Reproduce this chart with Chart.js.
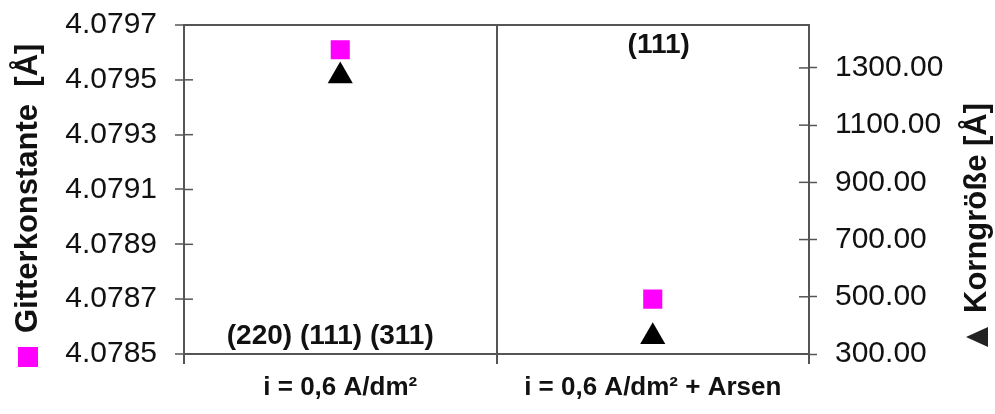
<!DOCTYPE html>
<html><head><meta charset="utf-8">
<script src="https://cdn.jsdelivr.net/npm/chart.js@4.4.0/dist/chart.umd.min.js"></script>
<style>html,body{margin:0;padding:0;background:#fff;overflow:hidden}</style>
</head><body>
<canvas id="c" width="995" height="414" style="width:995px;height:414px;display:block"></canvas>
<script>
const categories = ['i = 0,6 A/dm²', 'i = 0,6 A/dm² + Arsen'];
const gitterkonstante = [4.07961, 4.07870];
const korngroesse = [1272, 360];
const leftTicks = [4.0785, 4.0787, 4.0789, 4.0791, 4.0793, 4.0795, 4.0797];
const rightTicks = [300, 500, 700, 900, 1100, 1300];
const orientationLabels = ['(220) (111) (311)', '(111)'];
const leftTitle = 'Gitterkonstante  [Å]';
const rightTitle = 'Korngröße [Å]';

const FONT = "'Liberation Sans', Arial, sans-serif";
const AXIS = '#555';
const MAGENTA = '#FF00FF';

const noPad = s => { s.paddingTop = 0; s.paddingBottom = 0; };

const decor = {
  id: 'decor',
  afterDraw(chart) {
    const ctx = chart.ctx;
    const ca = chart.chartArea;
    const x = chart.scales.x, y = chart.scales.y, y1 = chart.scales.y1;
    ctx.save();
    // inner tick marks (cross ticks)
    ctx.strokeStyle = AXIS; ctx.lineWidth = 1.5;
    y.ticks.forEach(t => { const py = y.getPixelForValue(t.value); ctx.beginPath(); ctx.moveTo(ca.left, py); ctx.lineTo(ca.left + 9, py); ctx.stroke(); });
    y1.ticks.forEach(t => { const py = y1.getPixelForValue(t.value); ctx.beginPath(); ctx.moveTo(ca.right - 10, py); ctx.lineTo(ca.right, py); ctx.stroke(); });
    // axis lines extending slightly below the plot
    ctx.lineWidth = 2;
    [ca.left, ca.right].forEach(px => { ctx.beginPath(); ctx.moveTo(px, ca.bottom); ctx.lineTo(px, ca.bottom + 9); ctx.stroke(); });
    // orientation annotations
    ctx.fillStyle = '#111';
    ctx.font = 'bold 28px ' + FONT;
    ctx.textAlign = 'center'; ctx.textBaseline = 'alphabetic';
    ctx.fillText(orientationLabels[0], x.getPixelForValue(0) - 10, ca.bottom - 10);
    ctx.fillText(orientationLabels[1], x.getPixelForValue(1) + 6, ca.top + 28);
    // left title
    ctx.save();
    ctx.translate(28, 367);
    ctx.rotate(-Math.PI / 2);
    ctx.fillStyle = MAGENTA;
    ctx.fillRect(0, -10, 20, 20);
    ctx.fillStyle = '#111';
    ctx.font = 'bold 31px ' + FONT;
    ctx.textAlign = 'left'; ctx.textBaseline = 'middle';
    ctx.fillText(leftTitle, 34, 0);
    ctx.restore();
    // right title
    ctx.save();
    ctx.translate(977, 347);
    ctx.rotate(-Math.PI / 2);
    ctx.fillStyle = '#222';
    ctx.beginPath(); ctx.moveTo(0, 11); ctx.lineTo(20, 11); ctx.lineTo(10, -11); ctx.closePath(); ctx.fill();
    ctx.fillStyle = '#111';
    ctx.font = 'bold 31px ' + FONT;
    ctx.textAlign = 'left'; ctx.textBaseline = 'middle';
    ctx.fillText(rightTitle, 34, 0);
    ctx.restore();
    ctx.restore();
  }
};

new Chart(document.getElementById('c'), {
  type: 'line',
  data: {
    labels: categories,
    datasets: [
      { label: leftTitle, data: gitterkonstante, yAxisID: 'y', showLine: false,
        pointStyle: 'rect', pointRadius: 13.5, pointHoverRadius: 13.5, pointBorderWidth: 0,
        backgroundColor: MAGENTA, borderColor: MAGENTA },
      { label: rightTitle, data: korngroesse, yAxisID: 'y1', showLine: false,
        pointStyle: 'triangle', pointRadius: 14.5, pointHoverRadius: 14.5, pointBorderWidth: 0,
        backgroundColor: '#000', borderColor: '#000' }
    ]
  },
  options: {
    responsive: false, animation: false,
    layout: { padding: { top: 25, left: 0, right: 0, bottom: 0 } },
    plugins: { legend: { display: false }, tooltip: { enabled: false } },
    scales: {
      x: {
        type: 'category', offset: true,
        grid: { offset: true, color: AXIS, lineWidth: 2, tickLength: 10, tickColor: AXIS },
        border: { display: true, color: AXIS, width: 2 },
        ticks: { color: '#111', font: { family: FONT, size: 26, weight: 'bold' }, padding: 8, maxRotation: 0 },
        afterFit: s => { s.height = 60; s.paddingLeft = 0; s.paddingRight = 0; }
      },
      y: {
        position: 'left', min: 4.0785, max: 4.0797,
        afterBuildTicks: s => { s.ticks = leftTicks.map(v => ({ value: v })); },
        grid: { color: c => (c.tick && Math.abs(c.tick.value - 4.0797) < 1e-7) ? AXIS : 'rgba(0,0,0,0)',
                lineWidth: 2, tickLength: 9, tickColor: AXIS, tickWidth: 1.5 },
        border: { display: true, color: AXIS, width: 2 },
        ticks: { color: '#111', font: { family: FONT, size: 30 }, padding: 18,
                 callback: v => Number(v).toFixed(4) },
        afterFit: s => { s.width = 184; noPad(s); }
      },
      y1: {
        position: 'right', min: 300, max: 1450,
        afterBuildTicks: s => { s.ticks = rightTicks.map(v => ({ value: v })); },
        grid: { drawOnChartArea: false, tickLength: 8, tickColor: AXIS, tickWidth: 1.5 },
        border: { display: true, color: AXIS, width: 2 },
        ticks: { color: '#111', font: { family: FONT, size: 30 }, padding: 18,
                 callback: v => Number(v).toFixed(2) },
        afterFit: s => { s.width = 186; noPad(s); }
      }
    }
  },
  plugins: [decor]
});
</script>
</body></html>
